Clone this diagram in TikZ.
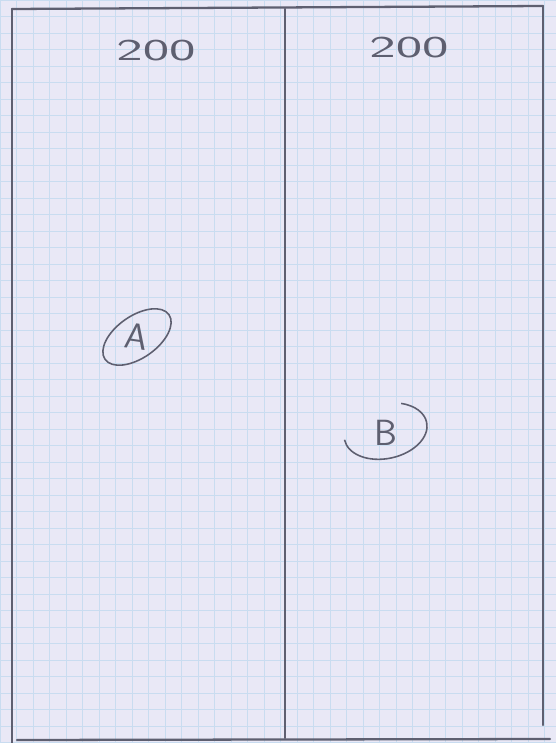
\documentclass[tikz,border=0pt]{standalone}
\usepackage{xcolor}
\usepackage{tikz}
\usetikzlibrary{shapes.geometric,calc}

\definecolor{paper}{HTML}{E9E8F6}
\definecolor{gridblue}{HTML}{C9DCF0}
\definecolor{pencil}{HTML}{5E5F70}

\begin{document}
\begin{tikzpicture}[
  x=0.02cm, y=-0.02cm,
  pencil/.style={draw=pencil,line width=1.3pt,line cap=round},
  gridline/.style={draw=gridblue,line width=0.4pt},
  width/.style={text=pencil,font=\sffamily\LARGE,xscale=1.85,transform shape},
  zone/.style={ellipse,draw=pencil,line width=0.9pt,inner sep=3pt,text=pencil,font=\sffamily\huge}
]
  % paper and grid
  \fill[paper] (0,0) rectangle (556,743);
  \useasboundingbox (0,0) rectangle (556,743);
  \foreach \g in {0,16.5,...,556} \draw[gridline] (\g,0) -- (\g,743);
  \foreach \g in {0,16.5,...,743} \draw[gridline] (0,\g) -- (556,\g);

  % outline of the two plots
  \coordinate (tl) at (12,9);
  \coordinate (tm) at (285,9);
  \coordinate (tr) at (543,6);
  \coordinate (bl) at (12,743);
  \coordinate (bm) at (285,738);
  \coordinate (br) at (543,725);
  \draw[pencil] (tl) -- (tr);
  \draw[pencil] (tl) -- (bl);
  \draw[pencil] (tm) -- (bm);
  \draw[pencil] (tr) -- (br);
  \draw[pencil] (17,740) -- (550,739);

  % labels
  \node[width] (wa) at (156,51) {200};
  \node[width] (wb) at (409,48) {200};
  \node[text=pencil,font=\sffamily\huge,rotate=-8] (za) at (137,337) {A};
  \draw[draw=pencil,line width=0.9pt,rotate around={35:(za.center)}]
    (za.center) ellipse[x radius=0.78cm,y radius=0.42cm];
  \node[text=pencil,font=\sffamily\huge] (zb) at (386,433) {B};
  \draw[draw=pencil,line width=0.9pt,rotate around={12:(zb.center)}]
    ($(zb.center)+(-42,-2)$)
    arc[start angle=180,end angle=420,x radius=0.84cm,y radius=0.55cm];
\end{tikzpicture}
\end{document}
